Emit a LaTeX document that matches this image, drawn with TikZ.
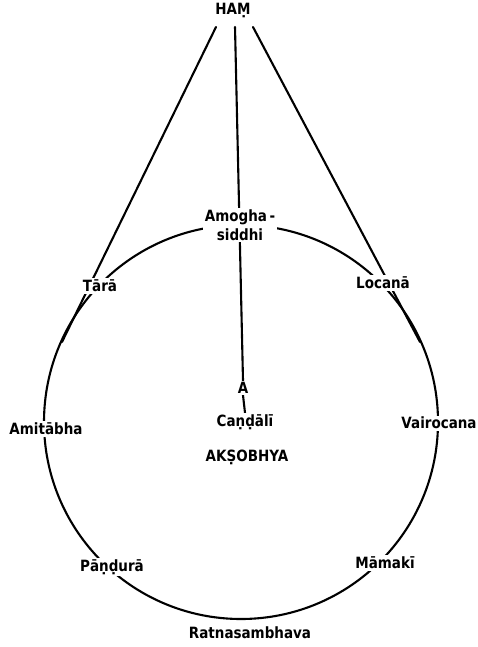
\documentclass[tikz,border=0pt]{standalone}
\usepackage{fontspec}
\setmainfont{DejaVu Sans}
\newfontfamily\lblfont[FakeStretch=0.87]{DejaVu Sans Bold}
\usetikzlibrary{backgrounds}
\begin{document}
\begin{tikzpicture}[x=1pt,y=-1pt,
  plain/.style={font=\fontsize{15.5}{19}\lblfont, inner sep=1.5pt},
  lbl/.style={plain, fill=white},
  wire/.style={line width=2.1pt, line cap=round}]
\useasboundingbox (0,0) rectangle (478,647);
% labels
\node[plain] (ham) at (233,10) {HAṂ};
\node[lbl, align=center] (amo) at (240,225) {Amogha\,-\\siddhi};
\node[lbl] (tara) at (100,286) {Tārā};
\node[lbl] (loc) at (383,283) {Locanā};
\node[lbl] (ami) at (46,429) {Amitābha};
\node[lbl] (vai) at (439,423) {Vairocana};
\node[lbl] (a) at (243,388) {A};
\node[lbl] (cand) at (245,422) {Caṇḍālī};
\node[plain] (aks) at (247,457) {AKṢOBHYA};
\node[lbl] (pan) at (112,567) {Pāṇḍurā};
\node[lbl] (mam) at (385,563) {Māmakī};
\node[plain] (rat) at (250,633) {Ratnasambhava};
\coordinate (ctr) at (241,422);
\coordinate (hamL) at (216,27);
\coordinate (hamC) at (235,27);
\coordinate (hamR) at (253,27);
\coordinate (tanL) at (62,342);
\coordinate (tanR) at (420,342);
\begin{scope}[on background layer]
  \draw[wire] (ctr) circle (197pt);
  \draw[wire] (hamL) -- (tanL);
  \draw[wire] (hamR) -- (tanR);
  \draw[wire] (hamC) -- (a.north);
  \draw[wire] (a.south) -- (cand.north);
\end{scope}
\end{tikzpicture}
\end{document}
